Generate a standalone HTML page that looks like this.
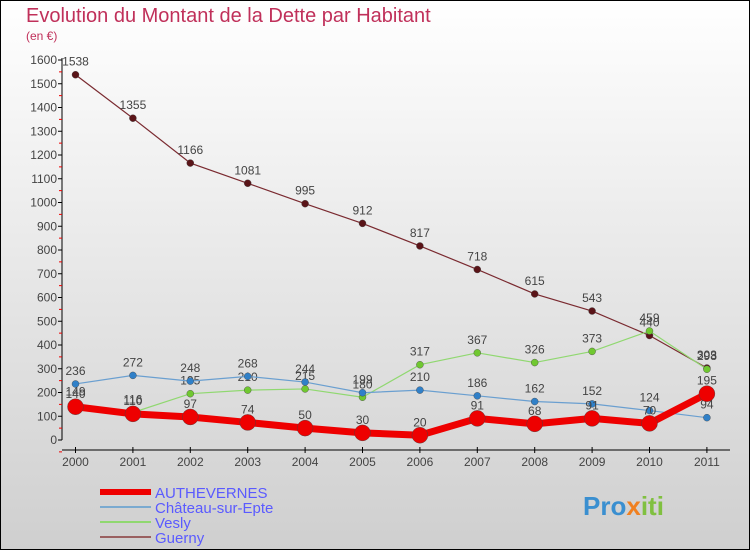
<!DOCTYPE html>
<html><head><meta charset="utf-8"><style>
body{margin:0}
#c{width:750px;height:550px;position:relative;font-family:"Liberation Sans",sans-serif;}
</style></head><body>
<div id="c">
<svg id="s" width="750" height="550" xmlns="http://www.w3.org/2000/svg">
<defs><linearGradient id="bg" x1="0" y1="0" x2="0" y2="1"><stop offset="0" stop-color="#ffffff"/><stop offset="1" stop-color="#cfcfcf"/></linearGradient></defs>
<rect x="0.5" y="0.5" width="749" height="549" fill="url(#bg)" stroke="#000"/>
<text x="26" y="22" font-size="20" fill="#c0305a">Evolution du Montant de la Dette par Habitant</text>
<text x="26" y="40" font-size="12" fill="#c0305a">(en €)</text>
<g id="axes"></g><g id="series"></g><g id="legend"></g>
<text x="583" y="515" font-size="26" font-weight="bold" fill="#3a8fd0">Pro<tspan fill="#f08020">x</tspan><tspan fill="#80c040">iti</tspan></text>
</svg></div>
<script>
const years=['2000','2001','2002','2003','2004','2005','2006','2007','2008','2009','2010','2011'];
const yTicks=[0,100,200,300,400,500,600,700,800,900,1000,1100,1200,1300,1400,1500,1600];
const authevernes=[140,110,97,74,50,30,20,91,68,91,70,195];
const chateau=[236,272,248,268,244,199,210,186,162,152,124,94];
const vesly=[149,116,195,210,215,180,317,367,326,373,459,298];
const guerny=[1538,1355,1166,1081,995,912,817,718,615,543,440,303];
const NS='http://www.w3.org/2000/svg';
const X=i=>75.5+i*57.4, Y=v=>440-v*0.2375;
function mk(t,a,p){const e=document.createElementNS(NS,t);for(const k in a)e.setAttribute(k,a[k]);p.appendChild(e);return e;}
const ax=document.getElementById('axes');
let l=mk('line',{x1:62,y1:58,x2:62,y2:440,stroke:'#000'},ax);


l=mk('line',{x1:62,y1:450,x2:730,y2:450,stroke:'#000'},ax);


yTicks.forEach(v=>{const y=Y(v);
mk('line',{x1:58,y1:y,x2:62,y2:y,stroke:'#000'},ax);
mk('line',{x1:59,y1:y+11.875,x2:62,y2:y+11.875,stroke:'#e00'},ax);
const t=mk('text',{x:57,y:y+4,'font-size':12,fill:'#444','text-anchor':'end'},ax);t.textContent=v;

});
years.forEach((yr,i)=>{mk('line',{x1:X(i),y1:447,x2:X(i),y2:453,stroke:'#000'},ax);
const t=mk('text',{x:X(i),y:466,'font-size':12,fill:'#444','text-anchor':'middle'},ax);t.textContent=yr;

});
const sg=document.getElementById('series');
const defs=[[guerny,'#7a2a30','#5a1418',1.2,3.5,'guerny'],[vesly,'#90d870','#70c830',1.2,3.5,'vesly'],[chateau,'#6a9fd0','#3080c8',1.2,3.5,'chateau-sur-epte'],[authevernes,'#ee0000','#ee0000',7,8,'authevernes']];
defs.forEach(([d,c,pc,w,r,n])=>{
const g=mk('g',{},sg);
const p=mk('polyline',{points:d.map((v,i)=>X(i)+','+Y(v)).join(' '),fill:'none',stroke:c,'stroke-width':w},g);


d.forEach((v,i)=>{const pt=mk('circle',{cx:X(i),cy:Y(v),r:r,fill:pc,stroke:'#444','stroke-width':0.4},g);


const t=mk('text',{x:X(i),y:Y(v)-9,'font-size':12,fill:'#444','text-anchor':'middle'},g);t.textContent=v;

});});
const lg=document.getElementById('legend');
[['AUTHEVERNES','#ee0000',6],['Château-sur-Epte','#7aaad0',2],['Vesly','#90d870',2],['Guerny','#9a6060',2]].forEach(([n,c,w],i)=>{
const y=492+i*15;
const g=mk('g',{},lg);
mk('line',{x1:100,y1:y,x2:151,y2:y,stroke:c,'stroke-width':w},g);
const t=mk('text',{x:155,y:y+6,'font-size':15,fill:'#5a5aff'},g);t.textContent=n;});
</script></body></html>
